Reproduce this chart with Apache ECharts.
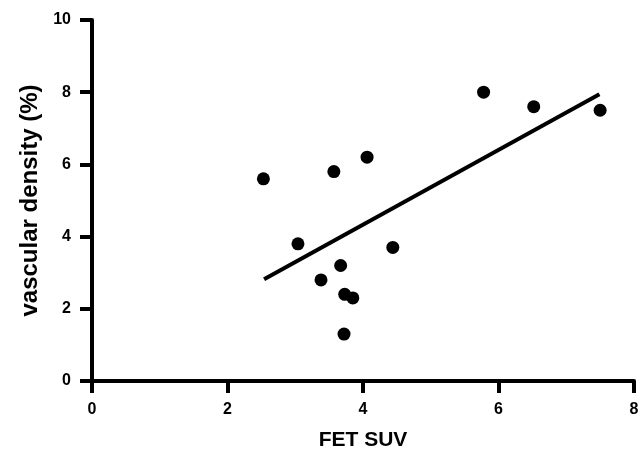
<!DOCTYPE html>
<html>
<head>
<meta charset="utf-8">
<script src="https://cdn.jsdelivr.net/npm/echarts@6/dist/echarts.min.js"></script>
<style>html,body{margin:0;padding:0;background:#fff}#c{width:644px;height:450px}</style>
</head>
<body>
<div id="c"></div>
<script>
var xTitle = 'FET SUV';
var yTitle = 'vascular density (%)';
var fetSuv = [2.53, 3.04, 3.38, 3.57, 3.67, 3.73, 3.85, 3.72, 4.06, 4.44, 5.78, 6.52, 7.50];
var vascDensity = [5.6, 3.8, 2.8, 5.8, 3.2, 2.4, 2.3, 1.3, 6.2, 3.7, 8.0, 7.6, 7.5];
var fitX = [2.54, 7.49];
var fitY = [2.82, 7.94];

var pts = fetSuv.map(function (x, i) { return [x, vascDensity[i]]; });
var fit = fitX.map(function (x, i) { return [x, fitY[i]]; });

var font = 'Liberation Sans, Arial, sans-serif';
var axisCommon = {
  axisLine: { show: true, onZero: false, lineStyle: { color: '#000', width: 4 } },
  axisTick: { show: true, inside: false, length: 12, lineStyle: { color: '#000', width: 4 } },
  splitLine: { show: false },
  axisLabel: { color: '#000', fontSize: 16, fontWeight: 'bold', fontFamily: font }
};
var chart = echarts.init(document.getElementById('c'), null, { renderer: 'canvas' });
chart.setOption({
  animation: false,
  backgroundColor: '#fff',
  grid: { left: 92, right: 10, top: 20, bottom: 69, containLabel: false, outerBoundsMode: 'none' },
  xAxis: Object.assign({}, axisCommon, {
    type: 'value', min: 0, max: 8, interval: 2,
    name: xTitle, nameLocation: 'middle', nameGap: 49,
    nameTextStyle: { color: '#000', fontSize: 21, fontWeight: 'bold', fontFamily: font },
    axisLabel: Object.assign({}, axisCommon.axisLabel, { margin: 21 })
  }),
  yAxis: Object.assign({}, axisCommon, {
    type: 'value', min: 0, max: 10, interval: 2,
    name: yTitle, nameLocation: 'middle', nameGap: 48,
    nameTextStyle: { color: '#000', fontSize: 24, fontWeight: 'bold', fontFamily: font },
    axisLabel: Object.assign({}, axisCommon.axisLabel, { margin: 21 })
  }),
  series: [
    {
      type: 'line', data: fit, showSymbol: false, symbol: 'none',
      lineStyle: { color: '#000', width: 4 }, z: 2
    },
    {
      type: 'scatter', data: pts, symbol: 'circle', symbolSize: 13,
      itemStyle: { color: '#000', opacity: 1 }, z: 3
    }
  ]
});
</script>
</body>
</html>
